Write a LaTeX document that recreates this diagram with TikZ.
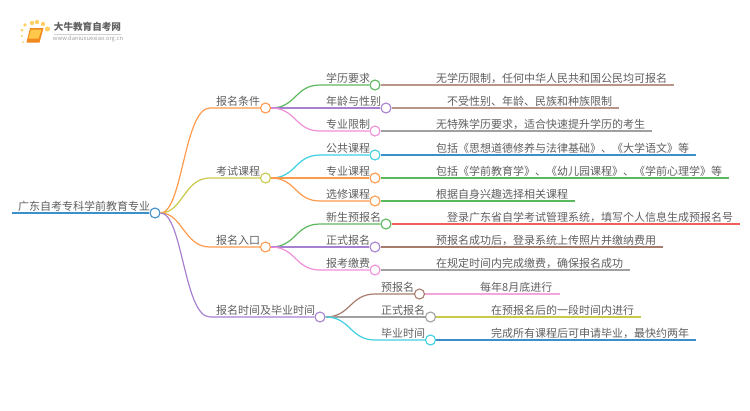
\documentclass[tikz,border=0pt]{standalone}
\usepackage{fontspec}
\setmainfont{Noto Sans CJK SC}
\usepackage{xcolor}
\usetikzlibrary{positioning}
\definecolor{rootblue}{HTML}{3D8FCB}
\definecolor{orange}{HTML}{FF9A4D}
\definecolor{olive}{HTML}{C9C94A}
\definecolor{purple}{HTML}{A880D0}
\definecolor{green}{HTML}{5CB85C}
\definecolor{pink}{HTML}{EE8FD8}
\definecolor{cyan}{HTML}{3DD0E0}
\definecolor{brown}{HTML}{A67C6D}
\definecolor{gray}{HTML}{A0A0A0}
\definecolor{red}{HTML}{F0605A}
\definecolor{softpink}{HTML}{F2A6DC}
\definecolor{graytext}{HTML}{5F5F5F}
\definecolor{booklight}{HTML}{FFC84A}
\definecolor{bookdark}{HTML}{F08A1E}

\begin{document}
\begin{tikzpicture}[
 x=1pt,y=-1pt,
 font=\fontsize{11}{13}\selectfont,
 every node/.style={text=graytext},
 dot/.style={circle,draw=#1,fill=white,line width=1.1pt,minimum size=10pt,inner sep=0pt},
 lbl/.style={anchor=south west,inner xsep=6pt,inner ysep=1pt},
 leaf/.style={anchor=south west,inner xsep=7pt,inner ysep=1pt},
 link/.style={line width=1.2pt,draw=#1}
]
\useasboundingbox (0,0) rectangle (750,410);

\foreach \px/\py/\pr in {32/23/2.2,37/22/2.2,43/24/2.2,47.5/29/2.6,25/25/1.8,22/30/1.5,22/36/1.2,23/42/1}
  \fill[booklight,opacity=.85] (\px,\py) circle (\pr);
\fill[bookdark] (30,28) -- (43.5,28) -- (39.5,42.5) -- (26.5,42.5) -- cycle;
\fill[booklight] (31,29.5) -- (41.5,29.5) -- (38.5,38.5) -- (28.5,38.5) -- cycle;
\node[font=\fontsize{9.6}{11}\selectfont\bfseries,inner sep=0pt] (logotitle) at (87.5,26.5) {大牛教育自考网};
\node[font=\fontsize{5.8}{7}\selectfont,text=gray,inner sep=0pt] (logourl) at (88,38.5) {www.daniuxuexiao.org.cn};
\draw[gray!50,line width=.4pt] (logotitle.south west)++(0,3) -- ++(67,0);

\node[dot=rootblue] (root) at (155,213) {};
\node[dot=orange] (a) at (265.5,108) {};
\node[dot=olive] (b) at (265.5,178) {};
\node[dot=orange] (c) at (265.5,247) {};
\node[dot=purple] (d) at (320,317) {};

\node[lbl] (roottext) at (12,213) {广东自考专科学前教育专业};
\node[lbl] (atext) at (210,108) {报名条件};
\node[lbl] (btext) at (210,178) {考试课程};
\node[lbl] (ctext) at (210,247) {报名入口};
\node[lbl] (dtext) at (210,317) {报名时间及毕业时间};
\draw[link=rootblue] (roottext.south west) -- (root);
\draw[link=orange] (root.east) .. controls +(22,0) and +(-26,0) .. (atext.south west) -- (a);
\draw[link=olive] (root.east) .. controls +(22,0) and +(-26,0) .. (btext.south west) -- (b);
\draw[link=orange] (root.east) .. controls +(22,0) and +(-26,0) .. (ctext.south west) -- (c);
\draw[link=purple] (root.east) .. controls +(22,0) and +(-26,0) .. (dtext.south west) -- (d);

\node[dot=green] (a1) at (375,85) {};
\node[dot=purple] (a2) at (386,108) {};
\node[dot=pink] (a3) at (375,131) {};
\node[dot=cyan] (b1) at (375,155) {};
\node[dot=orange] (b2) at (375,178) {};
\node[dot=orange] (b3) at (375,201) {};
\node[dot=green] (c1) at (386,224) {};
\node[dot=purple] (c2) at (375,247) {};
\node[dot=pink] (c3) at (375,270) {};
\node[dot=brown] (d1) at (419.5,294) {};
\node[dot=gray] (d2) at (430.5,317) {};
\node[dot=cyan] (d3) at (430.5,340) {};

\node[lbl] (a1text) at (320,85) {学历要求};
\node[lbl] (a2text) at (320,108) {年龄与性别};
\node[lbl] (a3text) at (320,131) {专业限制};
\node[lbl] (b1text) at (320,155) {公共课程};
\node[lbl] (b2text) at (320,178) {专业课程};
\node[lbl] (b3text) at (320,201) {选修课程};
\node[lbl] (c1text) at (320,224) {新生预报名};
\node[lbl] (c2text) at (320,247) {正式报名};
\node[lbl] (c3text) at (320,270) {报考缴费};
\node[lbl] (d1text) at (375,294) {预报名};
\node[lbl] (d2text) at (375,317) {正式报名};
\node[lbl] (d3text) at (375,340) {毕业时间};

\draw[link=green] (a.east) .. controls +(25,0) and +(-25,0) .. (a1text.south west) -- (a1);
\draw[link=purple] (a.east) -- (a2);
\draw[link=pink] (a.east) .. controls +(25,0) and +(-25,0) .. (a3text.south west) -- (a3);
\draw[link=cyan] (b.east) .. controls +(25,0) and +(-25,0) .. (b1text.south west) -- (b1);
\draw[link=orange] (b.east) -- (b2);
\draw[link=orange] (b.east) .. controls +(25,0) and +(-25,0) .. (b3text.south west) -- (b3);
\draw[link=green] (c.east) .. controls +(25,0) and +(-25,0) .. (c1text.south west) -- (c1);
\draw[link=purple] (c.east) -- (c2);
\draw[link=pink] (c.east) .. controls +(25,0) and +(-25,0) .. (c3text.south west) -- (c3);
\draw[link=brown] (d.east) .. controls +(25,0) and +(-25,0) .. (d1text.south west) -- (d1);
\draw[link=gray] (d.east) -- (d2);
\draw[link=cyan] (d.east) .. controls +(25,0) and +(-25,0) .. (d3text.south west) -- (d3);

\node[leaf] (a1leaf) at (429,85) {无学历限制，任何中华人民共和国公民均可报名};
\node[leaf] (a2leaf) at (440,108) {不受性别、年龄、民族和种族限制};
\node[leaf] (a3leaf) at (429,131) {无特殊学历要求，适合快速提升学历的考生};
\node[leaf] (b1leaf) at (429,155) {包括《思想道德修养与法律基础》、《大学语文》等};
\node[leaf] (b2leaf) at (429,178) {包括《学前教育学》、《幼儿园课程》、《学前心理学》等};
\node[leaf] (b3leaf) at (429,201) {根据自身兴趣选择相关课程};
\node[leaf] (c1leaf) at (440,224) {登录广东省自学考试管理系统，填写个人信息生成预报名号};
\node[leaf] (c2leaf) at (429,247) {预报名成功后，登录系统上传照片并缴纳费用};
\node[leaf] (c3leaf) at (429,270) {在规定时间内完成缴费，确保报名成功};
\node[leaf] (d1leaf) at (473,294) {每年8月底进行};
\node[leaf] (d2leaf) at (484,317) {在预报名后的一段时间内进行};
\node[leaf] (d3leaf) at (484,340) {完成所有课程后可申请毕业，最快约两年};

\draw[link=brown!80!white] (a1) -- (a1leaf.south east);
\draw[link=brown!80!white] (a2) -- (a2leaf.south east);
\draw[link=gray] (a3) -- (a3leaf.south east);
\draw[link=rootblue] (b1) -- (b1leaf.south east);
\draw[link=green] (b2) -- (b2leaf.south east);
\draw[link=green] (b3) -- (b3leaf.south east);
\draw[link=red] (c1) -- (c1leaf.south east);
\draw[link=brown] (c2) -- (c2leaf.south east);
\draw[link=gray] (c3) -- (c3leaf.south east);
\draw[link=softpink] (d1) -- (d1leaf.south east);
\draw[link=olive] (d2) -- (d2leaf.south east);
\draw[link=rootblue] (d3) -- (d3leaf.south east);
\end{tikzpicture}
\end{document}
